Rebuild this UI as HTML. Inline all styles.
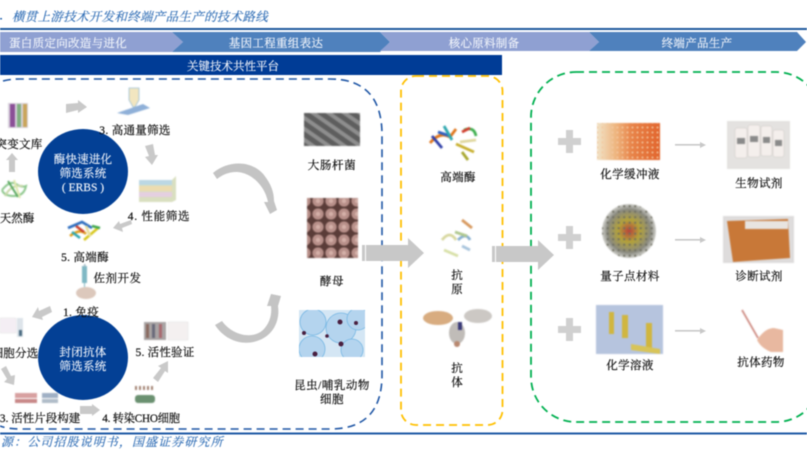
<!DOCTYPE html>
<html><head><meta charset="utf-8"><style>
html,body{margin:0;padding:0;background:#fff;width:807px;height:458px;overflow:hidden}
svg{display:block}
.all{filter:blur(.4px)}
text{font-family:"Liberation Serif","Noto Serif CJK SC",serif;font-size:11.5px;fill:#111;text-anchor:middle;stroke:#111;stroke-width:.22px}
.w{fill:#f2f5fb;stroke:#f2f5fb;stroke-width:.15px}
.i{font-style:italic;fill:#2f6db5;stroke:#2f6db5;stroke-width:.15px;text-anchor:start}
.pic{filter:blur(.5px)}
</style></head><body>
<svg width="807" height="458" viewBox="0 0 807 458" xmlns="http://www.w3.org/2000/svg">
<defs>
<linearGradient id="or" x1="0" x2="1"><stop offset="0" stop-color="#f1e3c8"/><stop offset=".3" stop-color="#eeb57f"/><stop offset=".55" stop-color="#e8844a"/><stop offset="1" stop-color="#e2662e"/></linearGradient>
<radialGradient id="ball"><stop offset="0" stop-color="#b8433a"/><stop offset=".4" stop-color="#b3a23a"/><stop offset=".8" stop-color="#8a8a80"/><stop offset="1" stop-color="#cfcfca"/></radialGradient>
<pattern id="bac" width="14" height="9" patternUnits="userSpaceOnUse" patternTransform="rotate(35)"><rect width="14" height="9" fill="#5e5e5e"/><rect y="1" width="14" height="4" fill="#8e8e8e"/></pattern>
<pattern id="yeast" width="13" height="13" patternUnits="userSpaceOnUse"><rect width="13" height="13" fill="#5a3c38"/><circle cx="6" cy="6" r="5.6" fill="#b8908a"/><circle cx="6" cy="6" r="2.2" fill="#d4b0a8"/></pattern>
<pattern id="dots" width="5.5" height="5.5" patternUnits="userSpaceOnUse"><circle cx="2.7" cy="2.7" r="1.1" fill="#6d6d60"/></pattern>
<pattern id="grid" width="5" height="5" patternUnits="userSpaceOnUse"><circle cx="2.5" cy="2.5" r="1.2" fill="#f4c8a0" opacity=".6"/></pattern>
<clipPath id="cell"><rect x="299" y="310" width="66" height="47"/></clipPath>
</defs>
<g class="all">
<!-- title -->
<text x="12" y="21" class="i" style="font-size:12.5px;letter-spacing:.3px">横贯上游技术开发和终端产品生产的技术路线</text>
<rect x="0" y="18" width="2" height="1.500" fill="#2c68b0"/>
<rect x="0" y="28" width="807" height="2" fill="#1f5a9e"/>

<!-- banner -->
<polygon points="0,32 172,32 183,42 172,52 0,52" fill="#8fa0d2"/>
<polygon points="172,32 380,32 390,42 380,52 172,52 183,42" fill="#4f81bd"/>
<polygon points="380,32 589,32 599,42 589,51 380,51 390,42" fill="#8fa0d2"/>
<polygon points="589,32 797,32 806,42 797,51 589,51 599,42" fill="#4f81bd"/>
<text x="68" y="47" class="w" style="letter-spacing:.3px">蛋白质定向改造与进化</text>
<text x="276" y="47" class="w" style="letter-spacing:.3px">基因工程重组表达</text>
<text x="484" y="47" class="w" style="letter-spacing:.3px">核心原料制备</text>
<text x="697" y="47" class="w" style="letter-spacing:.3px">终端产品生产</text>

<rect x="0" y="55" width="502" height="20" fill="#003c96"/>
<text x="233" y="70" class="w">关键技术共性平台</text>

<!-- dashed containers -->
<path d="M3,81 Q10,79 20,79 H330 Q382,79 382,135 V375 Q382,429 330,429 H20 Q8,429 0,426" fill="none" stroke="#1f56a5" stroke-width="1.6" stroke-dasharray="8 5"/>
<rect x="401" y="76" width="101.500" height="349" rx="15" fill="none" stroke="#ffc000" stroke-width="1.8" stroke-dasharray="8 5"/>
<rect x="531" y="72" width="290" height="350" rx="45" fill="none" stroke="#00b050" stroke-width="1.8" stroke-dasharray="8 5"/>

<!-- ===== upper cycle ===== -->
<ellipse cx="83" cy="171.500" rx="45" ry="42.500" fill="#034095"/>
<text x="83" y="163" class="w" style="letter-spacing:.2px">酶快速进化</text>
<text x="83" y="177" class="w" style="letter-spacing:.2px">筛选系统</text>
<text x="83" y="191" class="w">( ERBS )</text>

<g class="pic">
<rect x="8" y="103" width="20" height="25" fill="#d8d2dc"/>
<rect x="10" y="104" width="5" height="23" fill="#8a4f96"/><rect x="17" y="104" width="4" height="23" fill="#7fae7f"/><rect x="23" y="104" width="4" height="23" fill="#c9a55a"/>
<g fill="none" stroke-width="2"><path d="M2,190 q8,-10 14,-6 t10,2 q-2,10 -12,10 t-12,-6" stroke="#8fc88f"/><path d="M5,196 q6,-12 18,-10" stroke="#c8d8a8"/><path d="M8,181 l10,16" stroke="#5aa860"/><path d="M14,180 l6,18" stroke="#dfe8b0"/></g>
<path d="M129,88 h10 v12 l-4,7 h-2 l-4,-7z" fill="#f2e6c0" stroke="#9cc0d8" stroke-width=".8"/>
<polygon points="117,113 143,104 150,108 128,115" fill="#8fb0d8"/>
<polygon points="139,180 172,180 176,176 176,200 172,202 139,202" fill="#d9dfc0"/>
<rect x="139" y="180" width="33" height="5" fill="#bcd8e4"/><rect x="139" y="186" width="33" height="5" fill="#ecdcb0"/><rect x="139" y="192" width="33" height="5" fill="#e4cfe0"/>
<g fill="none" stroke-width="2.600"><path d="M68,228 l14,-6 l10,6" stroke="#2f6fc0"/><path d="M70,236 q10,-8 16,-2" stroke="#e0a020"/><path d="M84,240 l14,-12" stroke="#d8c820"/><path d="M76,226 l8,6" stroke="#c84030"/><path d="M92,226 l8,2" stroke="#40a850"/><path d="M72,232 l8,6" stroke="#30a8b0"/><path d="M86,226 l4,10" stroke="#e8e0a0"/></g>
</g>
<text x="19" y="148" style="letter-spacing:.3px">突变文库</text>
<text x="17" y="222">天然酶</text>
<text x="135" y="134" style="letter-spacing:.3px">3. 高通量筛选</text>
<text x="159" y="220" style="letter-spacing:.7px">4.  性能筛选</text>
<text x="85" y="261" style="letter-spacing:.3px">5. 高端酶</text>

<g fill="#c9c9c9">
<polygon points="66,104 78,103 78,100 87,107 78,113 78,110 66,113"/>
<polygon points="145,146 153,144 155,155 158,155 152,165 145,157 149,156"/>
<polygon points="9,172 9,160 6,160 12,153 18,160 15,160 15,172"/>
<polygon points="132,224 122,228 123,232 113,228 119,221 120,224 131,220"/>
</g>
<g class="pic">
<rect x="82" y="266" width="5" height="17" fill="#7fb8c4"/><rect x="84" y="264" width="1.500" height="3" fill="#9fb8c4"/><rect x="84" y="283" width="1" height="4" fill="#7fb8c4"/>
<ellipse cx="86" cy="293" rx="10" ry="6" fill="#dcc8bc"/>
</g>
<text x="117.500" y="282" style="letter-spacing:.5px">佐剂开发</text>

<!-- ===== lower cycle ===== -->
<ellipse cx="83" cy="357.500" rx="45" ry="42.500" fill="#034095"/>
<text x="81" y="316" style="letter-spacing:.3px">1. 免疫</text>
<text x="83" y="356" class="w" style="letter-spacing:.3px">封闭抗体</text>
<text x="83" y="370" class="w" style="letter-spacing:.3px">筛选系统</text>
<g fill="#c9c9c9">
<polygon points="50,306 52,312 42,317 43,320 32,317 38,307 39,311"/>
<polygon points="1,369 6,366 11,376 15,375 14,385 4,382 7,379"/>
<polygon points="80,406 92,406 92,404 100,410 92,416 92,414 80,414"/>
<polygon points="153,378 158,382 165,371 168,373 168,361 158,366 161,368"/>
</g>
<g class="pic">
<rect x="0" y="318" width="16" height="15" fill="#f4eef4" stroke="#e4e4e4" stroke-width=".5"/>
<rect x="17" y="318" width="6" height="19" fill="#dde4ea"/><rect x="19" y="330" width="3" height="6" fill="#4a6a80"/>
<rect x="144" y="322" width="22" height="18" fill="#a8a4a4"/><rect x="146" y="324" width="3" height="14" fill="#8a6a60"/><rect x="152" y="324" width="3" height="14" fill="#6a6a7a"/><rect x="159" y="324" width="3" height="14" fill="#a86a70"/>
<rect x="168" y="322" width="20" height="18" fill="#f4f0f0" stroke="#e0e0e0" stroke-width=".5"/>
<rect x="15" y="393" width="22" height="5" fill="#d8a0a0"/><rect x="42" y="393" width="16" height="5" fill="#a0b0c4"/><rect x="15" y="399" width="22" height="4" fill="#c88888"/><rect x="42" y="399" width="16" height="4" fill="#b0bcc8"/>
<rect x="135" y="395" width="20" height="8" fill="#6a9070" rx="3"/><path d="M135,388 h18" stroke="#a08070" stroke-width="4" stroke-dasharray="2 2"/>
</g>
<text x="15" y="357" style="letter-spacing:.2px">细胞分选</text>
<text x="165" y="356" style="letter-spacing:.2px">5. 活性验证</text>
<text x="40" y="422">3. 活性片段构建</text>
<text x="141" y="422" style="letter-spacing:-.2px;font-size:11.2px">4. 转染CHO细胞</text>

<!-- curved grey arrows (filled crescents) -->
<path d="M213,173 C228,160 252,160 264,175 C271,184 274,192 274,201 L277,210 L270,214 L264,202 L268,202 C266,192 260,182 250,176 C238,169 226,172 217,179 Z" fill="#c4c4c4"/>
<path d="M215,325 L222,321 C232,335 252,340 263,330 C270,323 272,314 271,306 L267,306 L271,294 L281,296 L278,306 C280,320 274,333 262,339 C246,347 226,342 215,325 Z" fill="#c4c4c4"/>

<!-- micrographs -->
<rect x="304" y="113" width="56" height="33" fill="url(#bac)" class="pic"/>
<text x="332" y="169" style="letter-spacing:.6px">大肠杆菌</text>
<rect x="307" y="198" width="51" height="60" fill="url(#yeast)" class="pic"/>
<text x="332" y="285" style="letter-spacing:.6px">酵母</text>
<g clip-path="url(#cell)"><rect x="299" y="310" width="66" height="47" fill="#d4e6f4"/>
<g fill="#b4d4ee" stroke="#78b8e4" stroke-width=".8"><circle cx="313" cy="322" r="13"/><circle cx="341" cy="328" r="15"/><circle cx="312" cy="349" r="13"/><circle cx="358" cy="319" r="11"/><circle cx="352" cy="350" r="11"/></g>
<g fill="#4a2040"><circle cx="340" cy="322" r="2.500"/><circle cx="304" cy="333" r="2"/><circle cx="341" cy="344" r="2.500"/><circle cx="315" cy="354" r="2.500"/><circle cx="356" cy="323" r="2"/><circle cx="327" cy="336" r="1.800"/></g></g>
<text x="332" y="389" style="letter-spacing:.5px">昆虫/哺乳动物</text>
<text x="332" y="403" style="letter-spacing:.5px">细胞</text>

<!-- big arrows -->
<polygon points="362,245 408,245 408,238 424,253 408,268 408,261 362,261" fill="#c8c8c8"/>
<polygon points="492,246 538,246 538,240 554,255 538,270 538,262 492,262" fill="#c8c8c8"/>
<rect x="495" y="246" width="1" height="17" fill="#fff"/>
<rect x="365" y="245" width="1" height="17" fill="#fff"/>

<!-- yellow column -->
<g class="pic">
<g fill="none" stroke-width="2.800"><path d="M430,143 q10,-12 20,-6 l6,-8" stroke="#e07820"/><path d="M438,132 l12,4" stroke="#3060c0"/><path d="M464,130 q10,-4 12,6" stroke="#40b050"/><path d="M470,128 l-8,4" stroke="#d04030"/><path d="M456,144 l18,8" stroke="#c8b030"/><path d="M462,152 l6,8" stroke="#a8a830"/><path d="M444,126 l8,14" stroke="#30a8b0"/><path d="M432,136 l10,12" stroke="#3040a8"/><path d="M460,142 l16,-2" stroke="#e0d8a0"/></g>
<g fill="none" stroke-width="2.800"><path d="M462,220 l10,8" stroke="#d89a60"/><path d="M442,240 q8,-10 14,0" stroke="#d8d8a0"/><path d="M458,240 q8,-8 12,0" stroke="#88b0d0"/><path d="M444,250 l14,6" stroke="#d8e0a8"/><path d="M455,232 l12,4" stroke="#b0c890"/><path d="M462,246 l8,4" stroke="#a8c4dc"/></g>
<g><ellipse cx="438" cy="318" rx="15" ry="7" fill="#d8ac80"/><ellipse cx="478" cy="316" rx="14" ry="7" fill="#ccc8c4"/><ellipse cx="457" cy="333" rx="8" ry="11" fill="#c0bcb8"/><rect x="458" y="322" width="4" height="8" fill="#3a3a78"/><circle cx="457" cy="344" r="3" fill="#b88870"/></g>
</g>
<text x="458" y="181" style="letter-spacing:.3px">高端酶</text>
<text x="457" y="279">抗</text><text x="457" y="293">原</text>
<text x="457" y="372">抗</text><text x="457" y="386">体</text>

<!-- green column -->
<g fill="#d0d0d0">
<path d="M566,130 h7 v8 h8 v7 h-8 v8 h-7 v-8 h-8 v-7 h8z"/>
<path d="M566,226 h7 v8 h8 v7 h-8 v8 h-7 v-8 h-8 v-7 h8z"/>
<path d="M566,318 h7 v8 h8 v7 h-8 v8 h-7 v-8 h-8 v-7 h8z"/>
</g>
<rect x="597" y="123" width="63" height="37" fill="url(#or)" class="pic"/>
<rect x="597" y="123" width="63" height="37" fill="url(#grid)"/>
<text x="630" y="178" style="letter-spacing:.4px">化学缓冲液</text>
<g class="pic"><circle cx="629" cy="231" r="27" fill="url(#ball)"/><circle cx="629" cy="231" r="27" fill="url(#dots)"/></g>
<text x="630" y="280" style="letter-spacing:.4px">量子点材料</text>
<g class="pic"><rect x="596" y="305" width="67" height="49" fill="#b6c4de"/>
<g fill="#d0b640"><rect x="609" y="312" width="5" height="22"/><rect x="622" y="315" width="6" height="23"/><rect x="646" y="323" width="6" height="25"/></g>
<polygon points="631,344 660,349 660,354 631,350" fill="#d8c458"/></g>
<text x="630" y="369" style="letter-spacing:.4px">化学溶液</text>

<g fill="#c8c8c8">
<rect x="675" y="144" width="26" height="1.600"/><polygon points="700,142 706,145 700,148"/>
<rect x="675" y="239" width="26" height="1.600"/><polygon points="700,237 706,240 700,243"/>
<rect x="675" y="330" width="26" height="1.600"/><polygon points="700,328 706,331 700,334"/>
</g>

<g class="pic"><rect x="727" y="121" width="63" height="48" fill="#e4e2e0"/>
<g fill="#f4efec" stroke="#cfcac6" stroke-width=".5"><rect x="735" y="128" width="12" height="30" rx="2"/><rect x="748" y="125" width="12" height="32" rx="2"/><rect x="761" y="126" width="11" height="30" rx="2"/><rect x="773" y="130" width="11" height="27" rx="2"/></g>
<g fill="#8a8a8a"><rect x="737" y="138" width="8" height="6"/><rect x="750" y="136" width="8" height="6"/><rect x="763" y="137" width="7" height="6"/><rect x="775" y="140" width="7" height="6"/></g></g>
<text x="759" y="187" style="letter-spacing:.4px">生物试剂</text>
<g class="pic"><rect x="723" y="216" width="71" height="47" fill="#dedcdc"/>
<polygon points="727,221 788,219 790,258 733,262" fill="#c87838"/>
<rect x="745" y="221" width="43" height="8" fill="#e8e4e0"/></g>
<text x="759" y="280" style="letter-spacing:.4px">诊断试剂</text>
<g class="pic"><line x1="742" y1="310" x2="758" y2="338" stroke="#d09088" stroke-width="1.800"/>
<path d="M757,340 q8,-12 17,-12 l9,2 v22 h-12 q-10,-4 -14,-12z" fill="#e8b8a0"/></g>
<text x="761" y="366" style="letter-spacing:.4px">抗体药物</text>

<!-- footer -->
<rect x="0" y="432.500" width="807" height="2" fill="#1f5aa5"/>
<text x="1" y="446" class="i" style="font-size:12px;letter-spacing:1.100px">源：公司招股说明书，国盛证券研究所</text>
</g>
</svg>
</body></html>
